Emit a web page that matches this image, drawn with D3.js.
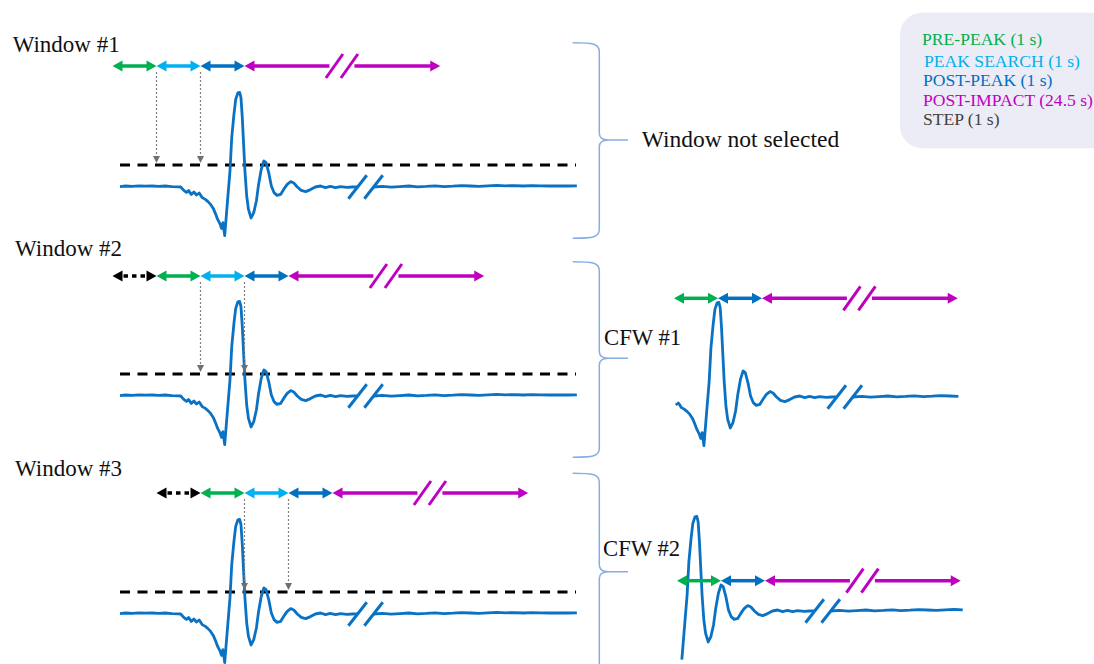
<!DOCTYPE html>
<html><head><meta charset="utf-8">
<script src="https://cdn.jsdelivr.net/npm/d3@7"></script>
<style>
body{margin:0;background:#fff}
svg{display:block}
text{font-family:"Liberation Serif","Times New Roman",serif}
</style>
</head><body>
<svg id="c" width="1094" height="664"></svg>
<script>
// ---------------- DATA ----------------
const phaseNames  = ["PRE-PEAK", "PEAK SEARCH", "POST-PEAK", "POST-IMPACT"];
const phaseDur    = [1, 1, 1, 24.5];               // seconds
const phaseColors = ["#00b050", "#00b0f0", "#0070c0", "#c000c0"];
const stepDur     = 1;                              // seconds
const legendLabels = ["PRE-PEAK (1 s)", "PEAK SEARCH (1 s)", "POST-PEAK (1 s)", "POST-IMPACT (24.5 s)", "STEP (1 s)"];
const legendColors = ["#00b050", "#00b0f0", "#0070c0", "#c000c0", "#404040"];
const windowLabels = ["Window #1", "Window #2", "Window #3"];
const windowStart  = [0, 1, 2];                     // s
const windowResult = ["Window not selected", "CFW #1", "CFW #2"];
const cfwPeakTime  = [2.87, 3.44];                  // s, peak found in the peak-search phase
const cfwShowFrom  = [1.89, 2.55];                  // s
const cfwShowTo    = [28.4, 29.05];                 // s
const threshold    = 1.05;                          // signal units
const sigBreak     = [5.57, 26.0];                  // s, compressed part of the signal
// acceleration signal (time s, value)
const sigT = [0.17,0.3,0.45,0.6,0.75,0.9,1.05,1.2,1.35,1.5,1.55,1.62,1.68,1.73,1.79,1.85,1.91,1.97,2.04,2.11,2.17,2.23,2.29,2.34,2.39,2.44,2.48,2.51,2.55,2.58,2.62,2.67,2.71,2.76,2.80,2.85,2.89,2.92,2.95,2.98,3.01,3.05,3.09,3.15,3.21,3.27,3.32,3.38,3.44,3.49,3.55,3.61,3.67,3.74,3.82,3.89,3.97,4.05,4.12,4.20,4.29,4.39,4.50,4.61,4.73,4.84,4.95,5.07,5.18,5.33,5.45,5.57,
  26.0,26.2,26.4,26.6,26.8,27.0,27.2,27.4,27.6,27.8,28.0,28.2,28.4,28.6,28.8,29.0,29.2,29.4,29.6,29.8,30.0,30.2,30.4,30.62];
const sigV = [-0.03,0.0,-0.02,0.01,-0.01,0.0,-0.02,0.0,-0.03,-0.04,-0.05,-0.22,-0.32,-0.23,-0.42,-0.30,-0.45,-0.35,-0.58,-0.67,-0.78,-0.92,-1.12,-1.38,-1.67,-1.88,-2.12,-1.83,-2.48,-1.67,-0.58,0.75,2.42,3.58,4.33,4.66,4.68,4.42,3.42,2.08,0.75,-0.5,-1.17,-1.6,-1.33,-0.75,0.08,0.83,1.25,1.17,0.67,0.0,-0.33,-0.47,-0.42,-0.17,0.08,0.22,0.15,-0.05,-0.22,-0.28,-0.18,-0.05,0.0,-0.08,-0.02,-0.08,-0.03,-0.07,-0.05,-0.04,
  -0.05,-0.02,-0.06,-0.03,0.0,-0.04,-0.02,0.01,-0.03,-0.01,0.02,0.0,-0.02,0.01,0.03,0.01,0.02,0.0,0.02,0.01,0.0,0.01,0.0,0.01];

// ---------------- LAYOUT ----------------
const PX = 44;            // px per second
const xBase = 112.5;      // x of t = 0 in window panels
const svg = d3.select("#c");
const signal = sigT.map((t, i) => ({t, v: sigV[i]}));

function sigScale(x0, t0) {
  const xa = x0 + PX * (sigBreak[0] - t0);
  return d3.scaleLinear()
    .domain([-10, sigBreak[0], sigBreak[1], 40])
    .range([x0 + PX * (-10 - t0), xa, xa + 16, xa + 16 + PX * (40 - sigBreak[1])]);
}
function ampScale(base) { return d3.scaleLinear().domain([0, 1]).range([base, base - 20]); }
function arrowScale(x0, t0, tPI, tEnd) {
  const a = x0 + PX * (tPI + 1.93 - t0);
  return d3.scaleLinear().domain([t0, tPI + 1.93, tEnd - 1.95, tEnd])
    .range([x0, a, a + 25, a + 25 + PX * 1.95]);
}

function head(g, x, y, dir, color) {
  const L = 10, W = 5.5;
  g.append("path").attr("d", `M${x},${y}L${x - dir * L},${y - W}L${x - dir * L},${y + W}Z`).attr("fill", color);
}
function slash(g, cx, cy, dx, dy, color) {
  g.append("line").attr("x1", cx - dx).attr("y1", cy + dy).attr("x2", cx + dx).attr("y2", cy - dy)
    .attr("stroke", color).attr("stroke-width", 3);
}
function dblArrow(g, xa, xb, y, color, opt = {}) {
  if (opt.gap) {
    const [g1, g2] = opt.gap;
    g.append("line").attr("x1", xa + 6).attr("x2", g1).attr("y1", y).attr("y2", y).attr("stroke", color).attr("stroke-width", 3.5);
    g.append("line").attr("x1", g2).attr("x2", xb - 6).attr("y1", y).attr("y2", y).attr("stroke", color).attr("stroke-width", 3.5);
    slash(g, g1 + 5, y, 8.5, 12, color);
    slash(g, g2 - 5, y, 8.5, 12, color);
  } else {
    const ln = g.append("line").attr("y1", y).attr("y2", y).attr("stroke", color).attr("stroke-width", 3.5);
    if (opt.dotted) ln.attr("x1", xa + 11).attr("x2", xb - 10).attr("stroke-dasharray", "4.5,4");
    else ln.attr("x1", xa + 6).attr("x2", xb - 6);
  }
  head(g, xa, y, -1, color);
  head(g, xb, y, 1, color);
}

function drawRow(g, sx, y, times, colors, withStep) {
  if (withStep) dblArrow(g, sx(times[0] - stepDur), sx(times[0]), y, "#000", {dotted: true});
  for (let i = 0; i < colors.length; i++) {
    const a = sx(times[i]), b = sx(times[i + 1]);
    const last = i === colors.length - 1;
    dblArrow(g, a, b, y, colors[i], last ? {gap: [sx.range()[1], sx.range()[2]]} : {});
  }
}

function drawSignal(g, sx, sy, from, to) {
  const line = d3.line().x(d => sx(d.t)).y(d => sy(d.v));
  const pre = signal.filter(d => d.t >= from && d.t <= sigBreak[0]);
  const post = signal.filter(d => d.t >= sigBreak[1] && d.t <= to);
  [pre, post].forEach(seg => g.append("path").attr("d", line(seg)).attr("fill", "none")
    .attr("stroke", "#0a72c4").attr("stroke-width", 2.8).attr("stroke-linejoin", "round"));
  const y0 = sy(0);
  slash(g, sx(sigBreak[0]), y0 + 1, 9.2, 11.7, "#0a72c4");
  slash(g, sx(sigBreak[1]), y0 + 1, 9.2, 11.7, "#0a72c4");
}

// ---------------- WINDOW PANELS ----------------
const wLabelX = [12.7, 15, 15], wLabelY = [52, 256, 476];
const wArrowY = [66, 276, 493], wBaseY = [186, 395, 613];
const sxSig = sigScale(xBase, 0);

windowLabels.forEach((lab, k) => {
  const g = svg.append("g");
  const s = windowStart[k];
  const sy = ampScale(wBaseY[k]);
  g.append("text").attr("x", wLabelX[k]).attr("y", wLabelY[k]).attr("font-size", 23).attr("fill", "#111").text(lab);
  g.append("line").attr("x1", 120).attr("x2", 576).attr("y1", sy(threshold)).attr("y2", sy(threshold))
    .attr("stroke", "#000").attr("stroke-width", 3).attr("stroke-dasharray", "10,7.5");
  drawSignal(g, sxSig, sy, 0, 31);
  const t0 = k > 0 ? s - stepDur : s;
  const bounds = [s]; phaseDur.forEach(d => bounds.push(bounds[bounds.length - 1] + d));
  const sa = arrowScale(xBase + PX * t0, t0, bounds[3], bounds[4]);
  drawRow(g, sa, wArrowY[k], bounds, phaseColors, k > 0);
  [bounds[1], bounds[2]].forEach(t => {
    const x = sa(t), yT = sy(threshold);
    g.append("line").attr("x1", x).attr("x2", x).attr("y1", wArrowY[k] + 6).attr("y2", yT - 8)
      .attr("stroke", "#808080").attr("stroke-width", 1.2).attr("stroke-dasharray", "2,2");
    g.append("path").attr("d", `M${x},${yT - 2}L${x - 3.5},${yT - 9}L${x + 3.5},${yT - 9}Z`).attr("fill", "#6f6f6f");
  });
});

// ---------------- CFW PANELS ----------------
const cPeakX = [718, 721], cArrowY = [298.3, 580.7], cBaseY = [396, 610];
cfwPeakTime.forEach((p, k) => {
  const g = svg.append("g");
  const sx = sigScale(cPeakX[k], p);
  const sy = ampScale(cBaseY[k]);
  drawSignal(g, sx, sy, cfwShowFrom[k], cfwShowTo[k]);
  const bounds = [p - phaseDur[0], p, p + phaseDur[2], p + phaseDur[2] + phaseDur[3]];
  const sa = arrowScale(cPeakX[k] - PX * phaseDur[0], bounds[0], bounds[2], bounds[3]);
  drawRow(g, sa, cArrowY[k], bounds, [phaseColors[0], phaseColors[2], phaseColors[3]], false);
});

// ---------------- BRACES + RESULT TEXT ----------------
const brTop = [42.7, 261.7, 473.3], brNotch = [140, 358.3, 571.7], brBot = [238.3, 457.3, 700];
const resX = [641.7, 604, 603], resY = [146.7, 345, 556], resSize = [23.5, 22.7, 22.7];
brTop.forEach((top, k) => {
  const xL = 572.7, xV = 599.3, xT = 628, n = brNotch[k], b = brBot[k];
  const d = `M${xL},${top}C${xV - 6},${top} ${xV},${top + 1} ${xV},${top + 9}` +
    `L${xV},${n - 7}Q${xV},${n} ${xV + 9},${n}L${xT},${n}` +
    `M${xT},${n}L${xV + 9},${n}Q${xV},${n} ${xV},${n + 7}` +
    `L${xV},${b - 9}C${xV},${b - 1} ${xV - 6},${b} ${xL},${b}`;
  svg.append("path").attr("d", d).attr("fill", "none").attr("stroke", "#86aee4").attr("stroke-width", 1.5);
  svg.append("text").attr("x", resX[k]).attr("y", resY[k]).attr("font-size", resSize[k]).attr("fill", "#111").text(windowResult[k]);
});

// ---------------- LEGEND ----------------
const lg = svg.append("g");
lg.append("rect").attr("x", 900).attr("y", 12.7).attr("width", 230).attr("height", 135.5).attr("rx", 22).attr("fill", "#ececf6");
const lgX = [922, 924, 923, 923, 923], lgY = [45, 66.5, 86, 105.5, 124.5];
legendLabels.forEach((t, i) => {
  lg.append("text").attr("x", lgX[i]).attr("y", lgY[i]).attr("font-size", 17.6).attr("fill", legendColors[i]).text(t);
});
</script>
</body></html>
